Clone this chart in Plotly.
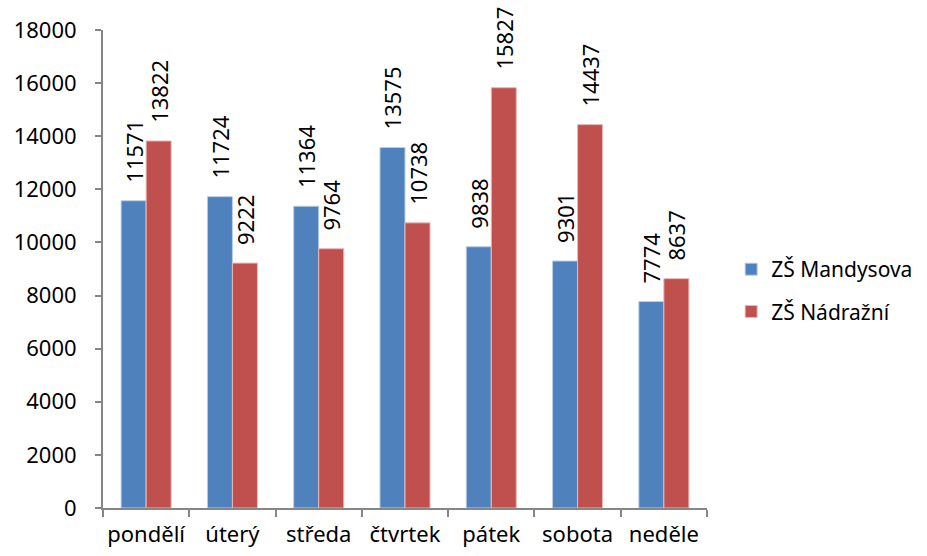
import plotly.graph_objects as go

days = ["pondělí", "úterý", "středa", "čtvrtek", "pátek", "sobota", "neděle"]
mandysova = [11571, 11724, 11364, 13575, 9838, 9301, 7774]
nadrazni = [13822, 9222, 9764, 10738, 15827, 14437, 8637]
y_ticks = list(range(0, 18001, 2000))

FONT = "Noto Sans"
FS = 22
AXIS_GRAY = "#868686"
PAD = "\u00a0\u00a0\u2009"  # keeps the value labels a little above the bars


def bar(name, values, fill, edge, group):
    return go.Bar(
        name=name, x=days, y=values, legendgroup=group,
        marker=dict(color=fill, line=dict(color=edge, width=1)),
        text=[PAD + str(v) for v in values], textposition="outside",
        textangle=-90, constraintext="none", cliponaxis=False,
        textfont=dict(family=FONT, size=FS, color="black"),
    )


fig = go.Figure()
fig.add_trace(bar("ZŠ Mandysova", mandysova, "#4F81BD", "#B9CDE5", "a"))
fig.add_trace(bar("ZŠ Nádražní", nadrazni, "#C0504D", "#E6B9B8", "b"))

fig.update_layout(
    width=927, height=556,
    margin=dict(l=103, r=220, t=30, b=48, autoexpand=False),
    paper_bgcolor="white", plot_bgcolor="white",
    barmode="group", bargap=0.42, bargroupgap=0,
    font=dict(family=FONT, size=FS, color="black"),
    legend=dict(x=1.04, y=0.455, xanchor="left", yanchor="middle",
                font=dict(family=FONT, size=21), traceorder="grouped",
                tracegroupgap=12, itemwidth=30),
    xaxis=dict(showline=True, linecolor=AXIS_GRAY, linewidth=2,
               ticks="outside", tickson="boundaries", ticklen=7,
               tickcolor=AXIS_GRAY, tickwidth=2, showgrid=False,
               tickangle=0, ticklabelstandoff=6,
               tickfont=dict(family=FONT, size=FS), automargin=False),
    yaxis=dict(range=[0, 18000], tickvals=y_ticks,
               ticktext=[str(v) for v in y_ticks], showline=True,
               linecolor=AXIS_GRAY, linewidth=2, ticks="outside", ticklen=6,
               tickcolor=AXIS_GRAY, tickwidth=2, showgrid=False,
               zeroline=False, ticklabelstandoff=14,
               tickfont=dict(family=FONT, size=FS), automargin=False),
)

fig.write_html("out.html")
